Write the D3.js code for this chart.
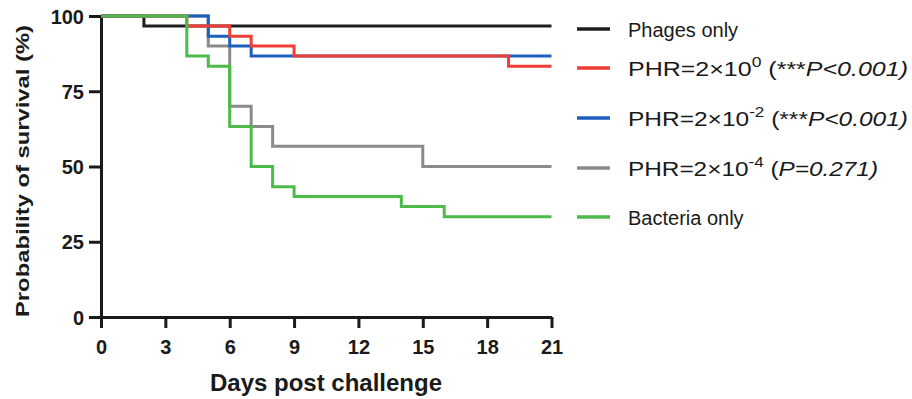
<!DOCTYPE html>
<head>
  <meta charset="utf-8">
  <script src="https://d3js.org/d3.v7.min.js"></script>
  <style>
    body { margin:0; background:#fff; }
    text { font-family: "Liberation Sans", Arial, sans-serif; fill:#1a1a1a; }
  </style>
</head>
<body>
<script>

  // survival steps: [day, percent]
  var phagesOnly   = [[0,100],[2,96.7],[21,96.7]];
  var phr0         = [[0,100],[4,96.7],[6,93.3],[7,90],[9,86.7],[19,83.3],[21,83.3]];
  var phr2         = [[0,100],[5,93.3],[6,90],[7,86.7],[21,86.7]];
  var phr4         = [[0,100],[5,90],[6,70],[7,63.3],[8,56.7],[15,50],[21,50]];
  var bacteriaOnly = [[0,100],[4,86.7],[5,83.3],[6,63.3],[7,50],[8,43.3],[9,40],[14,36.7],[16,33.3],[21,33.3]];

  var xTicks = [0,3,6,9,12,15,18,21];
  var yTicks = [0,25,50,75,100];

  var width = 912, height = 399;

  var svg = d3.select("body").append("svg")
    .attr("width", width)
    .attr("height", height);

  var x = d3.scaleLinear().domain([0,21]).range([101, 551.5]);
  var y = d3.scaleLinear().domain([0,100]).range([317, 16]);

  // axes
  var yAxis = svg.append("g")
    .attr("transform", "translate(101,0)")
    .call(d3.axisLeft(y).tickValues(yTicks).tickSize(12).tickPadding(5).tickSizeOuter(0));

  var xAxis = svg.append("g")
    .attr("transform", "translate(0,317)")
    .call(d3.axisBottom(x).tickValues(xTicks).tickSize(11).tickPadding(12).tickSizeOuter(0));

  [xAxis, yAxis].forEach(function(ax){
    ax.select(".domain").attr("stroke", "#1a1a1a").attr("stroke-width", 3);
    ax.selectAll(".tick line").attr("stroke", "#1a1a1a").attr("stroke-width", 3);
    ax.selectAll(".tick text")
      .attr("fill", "#1a1a1a")
      .style("font-size", "20px")
      .style("font-weight", "bold")
      .style("font-family", "'Liberation Sans', Arial, sans-serif");
  });
  yAxis.selectAll(".tick text").attr("dy", "0.36em");

  // curves
  var line = d3.line()
    .x(function(d){ return x(d[0]) })
    .y(function(d){ return y(d[1]) })
    .curve(d3.curveStepAfter);

  var series = [
    { name: "phages",   data: phagesOnly,   color: "#1e1e1e" },
    { name: "phr4",     data: phr4,         color: "#8a8a8a" },
    { name: "phr2",     data: phr2,         color: "#1c5fbe" },
    { name: "phr0",     data: phr0,         color: "#ef3e36" },
    { name: "bacteria", data: bacteriaOnly, color: "#4cbb4a" }
  ];

  svg.append("g").selectAll("path")
    .data(series)
    .enter()
    .append("path")
    .attr("d", function(d){ return line(d.data) })
    .attr("fill", "none")
    .attr("stroke", function(d){ return d.color })
    .attr("stroke-width", 3);

  // axis titles
  svg.append("text")
    .attr("x", 326)
    .attr("y", 391)
    .attr("text-anchor", "middle")
    .style("font-size", "24px")
    .style("font-weight", "bold")
    .text("Days post challenge");

  svg.append("text")
    .attr("transform", "translate(29,171) rotate(-90)")
    .attr("text-anchor", "middle")
    .attr("textLength", 292)
    .attr("lengthAdjust", "spacingAndGlyphs")
    .style("font-size", "19px")
    .style("font-weight", "bold")
    .text("Probability of survival (%)");

  // legend
  var legendItems = [
    { color: "#1e1e1e", parts: [["Phages only"]] },
    { color: "#ef3e36", parts: [["PHR=2\u00d710"],["0","sup"],[" (***"],["P<0.001)","it"]] },
    { color: "#1c5fbe", parts: [["PHR=2\u00d710"],["-2","sup"],[" (***"],["P<0.001)","it"]] },
    { color: "#8a8a8a", parts: [["PHR=2\u00d710"],["-4","sup"],[" ("],["P=0.271)","it"]] },
    { color: "#4cbb4a", parts: [["Bacteria only"]] }
  ];
  var legendY = [29, 68, 118, 168, 217];
  var legendLen = [null, 280, 280, 250, null];

  var lg = svg.append("g").selectAll("g")
    .data(legendItems)
    .enter()
    .append("g")
    .attr("transform", function(d,i){ return "translate(0," + legendY[i] + ")" });

  lg.append("line")
    .attr("x1", 577).attr("x2", 610)
    .attr("stroke", function(d){ return d.color })
    .attr("stroke-width", 3.5);

  var lt = lg.append("text")
    .attr("x", 628)
    .attr("y", 8)
    .style("font-size", "20px");

  lt.each(function(d, i){
    var t = d3.select(this);
    var raised = false;
    d.parts.forEach(function(p){
      var sp = t.append("tspan").text(p[0]);
      if (p[1] === "sup") {
        sp.attr("dy", -9).style("font-size", "14px");
      } else if (p[1] === "it") {
        sp.style("font-style", "italic");
      }
      if (p[1] !== "sup" && raised) sp.attr("dy", 9);
      raised = p[1] === "sup";
    });
    if (legendLen[i]) {
      t.attr("textLength", legendLen[i]).attr("lengthAdjust", "spacingAndGlyphs");
    }
  });

</script>
</body>
